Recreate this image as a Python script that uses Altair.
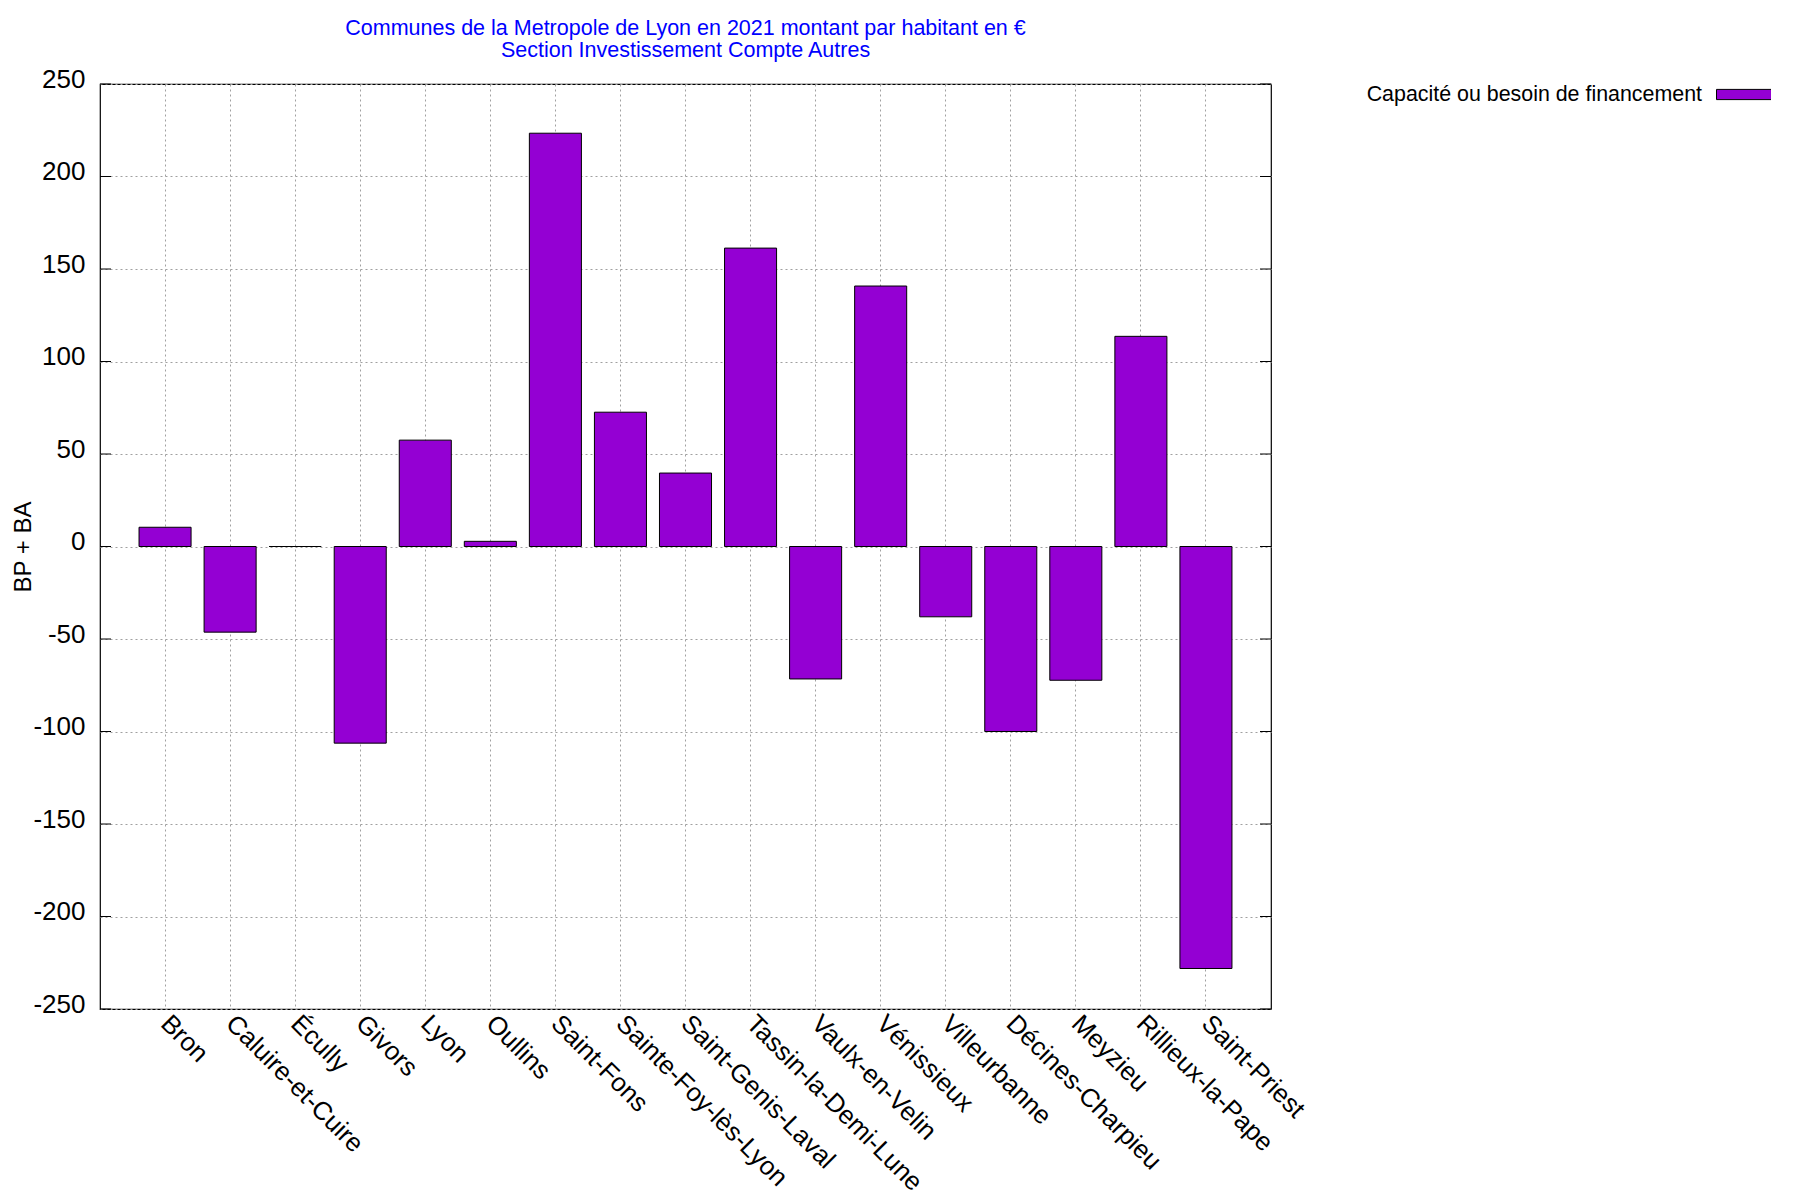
import altair as alt
import pandas as pd

communes = ["Bron", "Caluire-et-Cuire", "Écully", "Givors", "Lyon", "Oullins",
            "Saint-Fons", "Sainte-Foy-lès-Lyon", "Saint-Genis-Laval",
            "Tassin-la-Demi-Lune", "Vaulx-en-Velin", "Vénissieux", "Villeurbanne",
            "Décines-Charpieu", "Meyzieu", "Rillieux-la-Pape", "Saint-Priest"]
valeurs = [10.4, -46.3, 0.0, -106.3, 57.5, 2.8, 223.4, 72.6, 39.7, 161.3,
           -71.6, 140.8, -38.0, -100.0, -72.3, 113.6, -228.1]
serie = "Capacité ou besoin de financement"
y_ticks = list(range(-250, 251, 50))
titre = ["Communes de la Metropole de Lyon en 2021 montant par habitant en €",
         "Section Investissement Compte Autres"]

W, H = 1171, 925
FONT = "Liberation Sans"

df = pd.DataFrame({"commune": communes, "valeur": valeurs, "serie": [serie] * len(communes)})
ticks_df = pd.DataFrame({"t": y_ticks})

yscale = alt.Scale(domain=[-250, 250], nice=False, zero=False)

bars = alt.Chart(df).mark_bar(stroke="black", strokeWidth=1).encode(
    x=alt.X("commune:N", sort=communes,
            scale=alt.Scale(paddingInner=0.2, paddingOuter=0.6),
            axis=alt.Axis(title=None, labelAngle=45, labelAlign="left",
                          labelBaseline="middle", labelFontSize=25.8, labelFont=FONT,
                          labelColor="black", ticks=False, domain=False, labelLimit=0,
                          labelPadding=10, grid=True, gridColor="#a0a0a0",
                          gridDash=[2, 3], gridWidth=1)),
    y=alt.Y("valeur:Q", scale=yscale,
            axis=alt.Axis(title="BP + BA", values=y_ticks,
                          labelExpr="'' + datum.value", labelOffset={"expr": "-5"},
                          labelFontSize=26, labelFont=FONT, labelColor="black",
                          ticks=False, domain=False, labelPadding=15,
                          titleFontSize=24, titleFont=FONT, titleFontWeight="normal",
                          titleColor="black", titleX=-77, titleY=H / 2,
                          titleAngle=270, titleAlign="center", titleBaseline="middle",
                          grid=True, gridColor="#a0a0a0", gridDash=[2, 3], gridWidth=1)),
    color=alt.Color("serie:N", scale=alt.Scale(range=["#9400D3"]),
                    legend=alt.Legend(title=None, orient="none", legendX=1616, legendY=-20,
                                      labelFontSize=21.4, labelFont=FONT, labelColor="black",
                                      labelLimit=0,
                                      labelAlign="right", labelOffset={"expr": "-75"}, padding=0,
                                      symbolType="M-1,-0.17L1,-0.17L1,0.17L-1,0.17Z",
                                      symbolSize=3600, symbolStrokeColor="black",
                                      symbolStrokeWidth=1, symbolOpacity=1)),
)

left_ticks = alt.Chart(ticks_df).mark_rule(color="black", strokeWidth=1).encode(
    y=alt.Y("t:Q", scale=yscale), x=alt.value(0), x2=alt.value(11))
right_ticks = alt.Chart(ticks_df).mark_rule(color="black", strokeWidth=1).encode(
    y=alt.Y("t:Q", scale=yscale), x=alt.value(W - 11), x2=alt.value(W))

chart = alt.layer(bars, left_ticks, right_ticks).properties(
    width=W, height=H, background="white",
    title=alt.TitleParams(text=titre, color="blue", fontSize=21.5, font=FONT,
                          fontWeight="normal", anchor="middle", offset=3, lineHeight=22),
    autosize=alt.AutoSizeParams(type="none"),
    padding={"left": 92, "top": 76, "right": 500, "bottom": 200},
).configure_view(stroke="black", strokeWidth=1.2)

chart.save("out.html", embed_options={"renderer": "svg", "actions": False})
